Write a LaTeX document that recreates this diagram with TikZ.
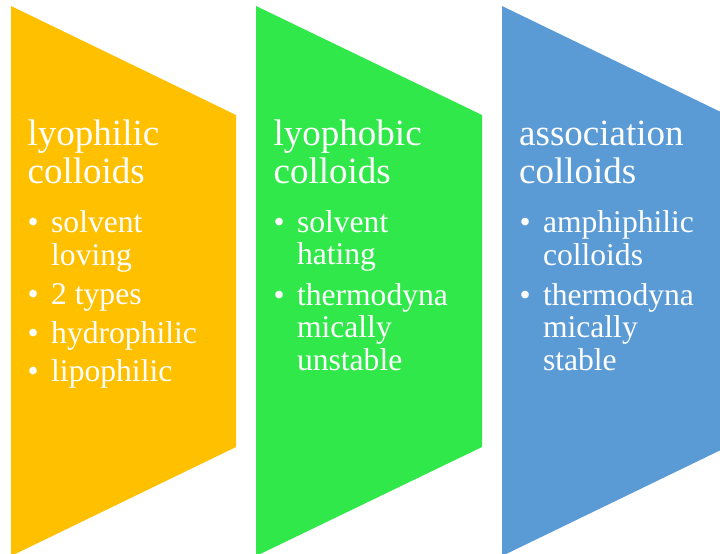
\documentclass[tikz,border=0pt]{standalone}
\usepackage{fontspec}
\setmainfont{Liberation Serif}
\definecolor{lyoY}{HTML}{FFC000}
\definecolor{lyoG}{HTML}{31E84A}
\definecolor{assB}{HTML}{5B9BD5}
\begin{document}
\begin{tikzpicture}[x=1pt,y=-1pt,
  panel/.style={draw=none},
  title/.style={anchor=base west,inner sep=0pt,text=white,font=\fontsize{37}{38}\selectfont},
  item/.style={anchor=base west,inner sep=0pt,text=white,font=\fontsize{31.6}{32.5}\selectfont},
  dot/.style={anchor=base west,inner sep=0pt,text=white,font=\fontsize{31.6}{32.5}\selectfont}]
\useasboundingbox (0,0) rectangle (720,554);
\begin{scope}
\clip (0,0) rectangle (720,554);
% chevron-like panels
\fill[lyoY] (11,6) -- (236,115) -- (236,447) -- (11,556) -- cycle;
\fill[lyoG] (256,6) -- (482,115) -- (482,447) -- (256,556) -- cycle;
\fill[assB] (502,6) -- (727,115) -- (727,447) -- (502,556) -- cycle;
\end{scope}
% first panel: lyophilic
\node[title] (t1a) at (27.5,145) {lyophilic};
\node[title] (t1b) at (27.5,183) {colloids};
\node[dot] (b1a) at (27.5,232.5) {•};
\node[item] (i1a) at (51,232.5) {solvent};
\node[item] (i1b) at (51,265) {loving};
\node[dot] (b1b) at (27.5,304.5) {•};
\node[item] (i1c) at (51,304.5) {2 types};
\node[dot] (b1c) at (27.5,343) {•};
\node[item] (i1d) at (51,343) {hydrophilic};
\node[dot] (b1d) at (27.5,381) {•};
\node[item] (i1e) at (51,381) {lipophilic};
% second panel: lyophobic
\node[title] (t2a) at (273.5,145) {lyophobic};
\node[title] (t2b) at (273.5,183) {colloids};
\node[dot] (b2a) at (273.5,232.5) {•};
\node[item] (i2a) at (296.8,232.5) {solvent};
\node[item] (i2b) at (296.8,264.5) {hating};
\node[dot] (b2b) at (273.5,305) {•};
\node[item] (i2c) at (296.8,305) {thermodyna};
\node[item] (i2d) at (296.8,337.5) {mically};
\node[item] (i2e) at (296.8,370) {unstable};
% third panel: association
\node[title] (t3a) at (519,145) {association};
\node[title] (t3b) at (519,183) {colloids};
\node[dot] (b3a) at (519.5,232) {•};
\node[item] (i3a) at (542.8,232) {amphiphilic};
\node[item] (i3b) at (542.8,265) {colloids};
\node[dot] (b3b) at (519.5,305) {•};
\node[item] (i3c) at (542.8,305) {thermodyna};
\node[item] (i3d) at (542.8,337.5) {mically};
\node[item] (i3e) at (542.8,370) {stable};
\end{tikzpicture}
\end{document}
